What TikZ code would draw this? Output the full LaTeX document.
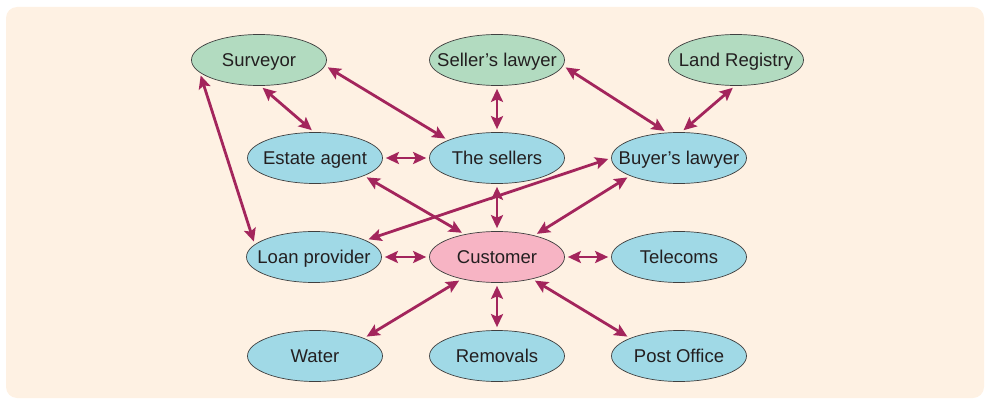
\documentclass[tikz,border=0pt]{standalone}
\usepackage{fontspec}
\setmainfont{Liberation Sans}
\usetikzlibrary{shapes.geometric,arrows.meta}
\definecolor{bgc}{HTML}{FEF1E3}
\definecolor{grn}{HTML}{B2DBC0}
\definecolor{blu}{HTML}{A0D9E6}
\definecolor{pnk}{HTML}{F7B4C4}
\definecolor{arr}{HTML}{A3255C}
\definecolor{txt}{HTML}{231F20}
\newcommand{\lbl}[1]{\makebox[0pt][c]{#1}}
\tikzset{
  ent/.style={ellipse,draw=black!75,line width=0.7pt,minimum width=135pt,minimum height=51pt,inner sep=0pt,
    text height=17.2pt,text depth=4pt,
    font=\fontsize{18.5}{20}\selectfont,text=txt},
  gn/.style={ent,fill=grn},
  bn/.style={ent,fill=blu},
  pn/.style={ent,fill=pnk},
  link/.style={draw=arr,line width=2.8pt,{Stealth[length=13pt,width=12pt,inset=2.5pt]}-{Stealth[length=13pt,width=12pt,inset=2.5pt]},shorten <=3pt,shorten >=3pt}
}
\begin{document}
\begin{tikzpicture}[x=1pt,y=-1pt]
\useasboundingbox (0,0) rectangle (985,401);
\fill[bgc,rounded corners=11pt] (6,7) rectangle (984,398);
\node[gn] (surv) at (259,60) {\lbl{Surveyor}};
\node[gn] (slaw) at (497,60) {\lbl{Seller’s lawyer}};
\node[gn] (land) at (736,60) {\lbl{Land Registry}};
\node[bn] (est) at (315,158) {\lbl{Estate agent}};
\node[bn] (sell) at (497,158) {\lbl{The sellers}};
\node[bn] (blaw) at (679,158) {\lbl{Buyer’s lawyer}};
\node[bn] (loan) at (314,257) {\lbl{Loan provider}};
\node[pn] (cust) at (497,257) {\lbl{Customer}};
\node[bn] (tel) at (679,257) {\lbl{Telecoms}};
\node[bn] (wat) at (315,356) {\lbl{Water}};
\node[bn] (rem) at (497,356) {\lbl{Removals}};
\node[bn] (post) at (679,356) {\lbl{Post Office}};
\path[link] (surv.-87) -- (est.92);
\path[link] (surv.-5) -- (sell.160);
\path[link] (surv.-168) -- (loan.168);
\path[link] (slaw) -- (sell);
\path[link] (slaw.-5) -- (blaw.115);
\path[link] (land.-92) -- (blaw.85);
\path[link] (est) -- (sell);
\path[link] (est.-20) -- (cust.145);
\path[link] (sell) -- (cust);
\path[link] (blaw.west) -- (loan.18);
\path[link] (blaw.-160) -- (cust.30);
\path[link] (loan) -- (cust);
\path[link] (cust) -- (tel);
\path[link] (cust.-148) -- (wat.20);
\path[link] (cust) -- (rem);
\path[link] (cust.-32) -- (post.160);
\end{tikzpicture}
\end{document}
